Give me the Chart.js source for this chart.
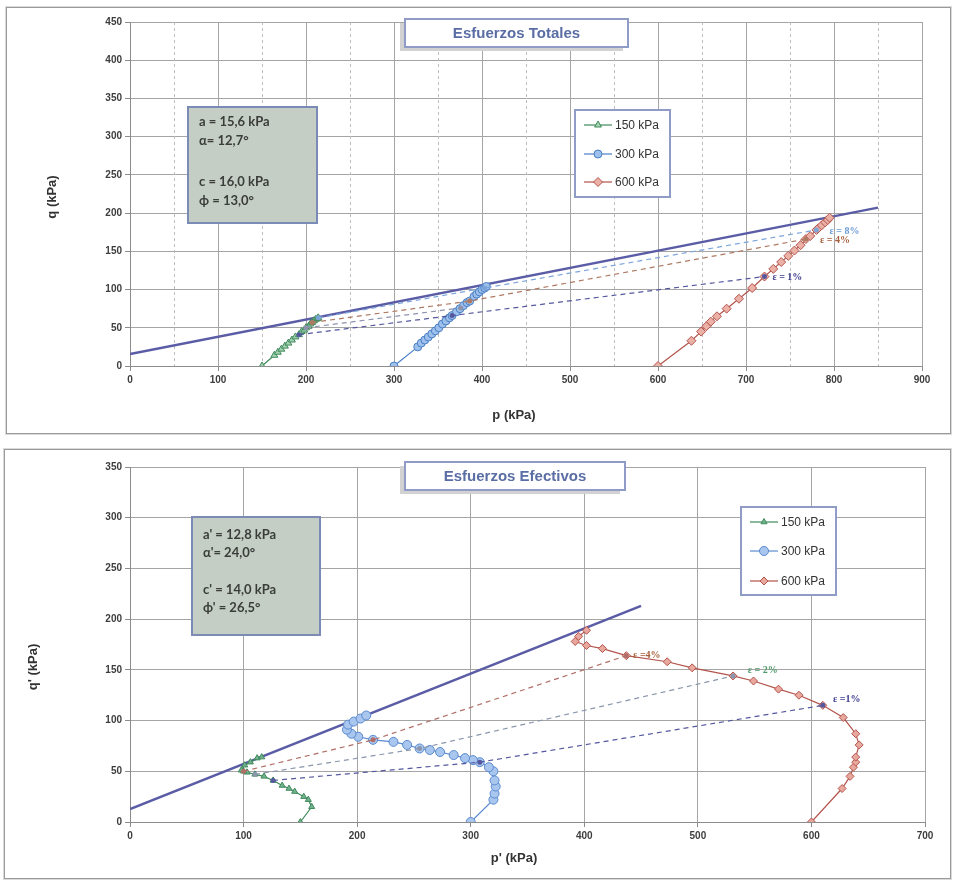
<!DOCTYPE html>
<html lang="es">
<head>
<meta charset="utf-8">
<title>Trayectorias de esfuerzos</title>
<script src="https://cdn.jsdelivr.net/npm/chart.js@4.4.1/dist/chart.umd.min.js"></script>
<style>
  html, body { margin: 0; padding: 0; background: #fff; }
  #hoja { position: relative; width: 955px; height: 881px; overflow: hidden; }
  .marco { position: absolute; border: 1px solid #9a9a9a; box-shadow: 0 0 0 1px #dadada; }
  canvas { position: absolute; left: 0; }
</style>
</head>
<body>
<div id="hoja">
  <div class="marco" style="left:6px;top:7px;width:943px;height:425px"></div>
  <div class="marco" style="left:4px;top:449px;width:945px;height:428px"></div>
  <canvas id="totales" width="955" height="440" style="top:0"></canvas>
  <canvas id="efectivos" width="955" height="438" style="top:443px"></canvas>
</div>
<script>
// ---------- Esfuerzos totales ----------
const ticksP_tot = [0, 100, 200, 300, 400, 500, 600, 700, 800, 900];
const ticksQ_tot = [0, 50, 100, 150, 200, 250, 300, 350, 400, 450];
const menoresP_tot = [50, 150, 250, 350, 450, 550, 650, 750, 850];

const p150_tot = [150, 164, 168, 172, 176, 180, 184, 188, 192, 195, 198, 200, 203, 205, 207, 209, 211, 213, 214];
const q150_tot = [0, 14, 18, 22, 26, 30, 34, 38, 41, 45, 47, 50, 52, 55, 57, 59, 61, 62, 63];
const p300_tot = [300, 327, 331, 335, 339, 343, 347, 351, 355, 359, 363, 366, 371, 375, 379, 383, 386, 391, 394, 397, 400, 403, 405];
const q300_tot = [0, 25, 30, 34, 38, 42, 46, 50, 55, 59, 63, 66, 71, 75, 79, 83, 85, 91, 94, 97, 100, 102, 104];
const p600_tot = [600, 638, 649, 655, 660, 667, 678, 692, 707, 721, 731, 740, 748, 755, 762, 768, 773, 780, 782, 786, 790, 793, 795];
const q600_tot = [0, 33, 45, 52, 58, 65, 75, 88, 102, 117, 127, 136, 144, 151, 158, 166, 170, 178, 180, 184, 188, 191, 194];

// envolvente: a = 15,6 kPa, alfa = 12,7 grados
const aTot = 15.6, alfaTot = 12.7;
const envP_tot = [0, 850];

// puntos de igual deformacion
const d8P_tot = [214, 403, 780], d8Q_tot = [63, 102, 178];
const d4P_tot = [207, 386, 768], d4Q_tot = [57, 85, 166];
const d2P_tot = [200, 376], d2Q_tot = [50, 76];
const d1P_tot = [192, 366, 721], d1Q_tot = [41, 66, 117];

// ---------- Esfuerzos efectivos ----------
const ticksP_ef = [0, 100, 200, 300, 400, 500, 600, 700];
const ticksQ_ef = [0, 50, 100, 150, 200, 250, 300, 350];

const p150_ef = [150, 160, 157, 153, 145, 140, 134, 126, 118, 110, 103, 100, 98, 101, 106, 112, 116];
const q150_ef = [0, 15, 22, 25, 30, 33, 36, 41, 45, 47, 49, 50, 51, 56, 59, 63, 64];
const p300_ef = [300, 320, 321, 322, 321, 320, 316, 308, 302, 295, 285, 273, 264, 255, 244, 232, 214, 201, 195, 191, 192, 197, 203, 208];
const q300_ef = [0, 22, 28, 35, 41, 50, 54, 59, 61, 63, 66, 69, 71, 72.5, 76, 79, 81, 84, 87, 91, 96, 99, 102, 105];
const p600_ef = [600, 627, 634, 637, 639, 639, 642, 639, 628, 610, 589, 571, 549, 531, 495, 473, 437, 416, 402, 392, 395, 402];
const q600_ef = [0, 33, 45, 54, 59, 64, 76, 87, 103, 115, 125, 131, 139, 144, 152, 158, 164, 171, 174, 178, 183, 189];

// envolvente: a' = 12,8 kPa, alfa' = 24,0 grados
const aEf = 12.8, alfaEf = 24.0;
const envP_ef = [0, 450];

const d4P_ef = [100, 214, 437], d4Q_ef = [50, 81, 164];
const d2P_ef = [110, 255, 531], d2Q_ef = [47, 72.5, 144];
const d1P_ef = [126, 308, 610], d1Q_ef = [41, 59, 115];

// ---------- utilidades ----------
Chart.defaults.font.family = "'Liberation Sans', Arial, sans-serif";

function puntos(ps, qs) {
  return ps.map((p, i) => ({ x: p, y: qs[i] }));
}

function recta(ps, a, alfa) {
  const t = Math.tan(alfa * Math.PI / 180);
  return ps.map(p => ({ x: p, y: a + p * t }));
}

function serie(label, ps, qs, color, relleno, estilo, radio) {
  return {
    label: label, data: puntos(ps, qs), showLine: true,
    borderColor: color, backgroundColor: relleno, borderWidth: 1.2,
    pointStyle: estilo, pointRadius: radio, pointBorderWidth: 1,
    pointBackgroundColor: relleno, pointBorderColor: color,
    order: 1, enLeyenda: true
  };
}

function discontinua(ps, qs, color) {
  return {
    data: puntos(ps, qs), showLine: true, borderColor: color, backgroundColor: color,
    borderDash: [5, 4], borderWidth: 1.2, pointRadius: 2.5, pointBorderWidth: 0,
    order: 0
  };
}

function envolvente(datos) {
  return {
    data: datos, showLine: true, borderColor: '#5b5ca6', borderWidth: 2.5,
    pointRadius: 0, order: 2
  };
}

function escalas(ticksX, ticksY, altoX) {
  const comun = {
    type: 'linear',
    grid: { color: '#a5a5a5', lineWidth: 1, tickLength: 5, tickColor: '#8c8c8c' },
    border: { color: '#8c8c8c', width: 1 },
    ticks: { font: { size: 10, weight: 'bold' }, color: '#3d3d3d', padding: 3, maxRotation: 0, autoSkip: false }
  };
  return {
    x: Object.assign({}, comun, {
      min: ticksX[0], max: ticksX[ticksX.length - 1],
      afterBuildTicks: s => { s.ticks = ticksX.map(v => ({ value: v })); },
      afterFit: s => { s.height = altoX; }
    }),
    y: Object.assign({}, comun, {
      min: ticksY[0], max: ticksY[ticksY.length - 1],
      afterBuildTicks: s => { s.ticks = ticksY.map(v => ({ value: v })); },
      afterFit: s => { s.width = 130; }
    })
  };
}

// cajas de titulo, parametros, leyenda y rotulos de deformacion
const decoracion = {
  id: 'decoracion',
  beforeDatasetsDraw(chart, args, o) {
    if (!o.menores) return;
    const ctx = chart.ctx, a = chart.chartArea, x = chart.scales.x;
    ctx.save();
    ctx.strokeStyle = '#bdbdbd';
    ctx.lineWidth = 1;
    ctx.setLineDash([3, 3]);
    o.menores.forEach(v => {
      const px = Math.round(x.getPixelForValue(v)) + 0.5;
      ctx.beginPath(); ctx.moveTo(px, a.top); ctx.lineTo(px, a.bottom); ctx.stroke();
    });
    ctx.restore();
  },
  afterDatasetsDraw(chart, args, o) {
    const ctx = chart.ctx, sx = chart.scales.x, sy = chart.scales.y;
    ctx.save();

    // titulo
    const t = o.cajaTitulo;
    ctx.fillStyle = '#d2d2d2';
    ctx.fillRect(t[0] - 5, t[1] + 4, t[2], t[3]);
    ctx.fillStyle = '#fff';
    ctx.fillRect(t[0], t[1], t[2], t[3]);
    ctx.strokeStyle = '#8f9cc6';
    ctx.lineWidth = 2;
    ctx.strokeRect(t[0], t[1], t[2], t[3]);
    ctx.fillStyle = '#5a6da4';
    ctx.font = "bold 15px 'Liberation Sans', Arial, sans-serif";
    ctx.textAlign = 'center';
    ctx.textBaseline = 'middle';
    ctx.fillText(o.titulo, t[0] + t[2] / 2, t[1] + t[3] / 2 + 1);

    // parametros de resistencia
    const c = o.cajaParam;
    ctx.fillStyle = '#c4cec4';
    ctx.fillRect(c[0], c[1], c[2], c[3]);
    ctx.strokeStyle = '#7c8ab6';
    ctx.strokeRect(c[0], c[1], c[2], c[3]);
    ctx.fillStyle = '#3a3d3a';
    ctx.font = "bold 13px Lato, 'Open Sans', sans-serif";
    ctx.textAlign = 'left';
    o.parametros.forEach((txt, i) => ctx.fillText(txt, c[0] + 11, o.filasParam[i]));

    // leyenda
    const l = o.cajaLeyenda;
    ctx.fillStyle = '#fff';
    ctx.fillRect(l[0], l[1], l[2], l[3]);
    ctx.strokeStyle = '#8f9cc6';
    ctx.strokeRect(l[0], l[1], l[2], l[3]);
    ctx.font = "12px 'Liberation Sans', Arial, sans-serif";
    chart.data.datasets.filter(d => d.enLeyenda).forEach((d, i) => {
      const y = o.filasLeyenda[i];
      const x0 = l[0] + 9, x1 = x0 + 28;
      ctx.strokeStyle = d.borderColor;
      ctx.lineWidth = 1.2;
      ctx.beginPath(); ctx.moveTo(x0, y); ctx.lineTo(x1, y); ctx.stroke();
      ctx.fillStyle = d.pointBackgroundColor;
      ctx.lineWidth = 1;
      Chart.helpers.drawPoint(ctx, { pointStyle: d.pointStyle, radius: d.pointRadius, borderWidth: 1, rotation: 0 }, (x0 + x1) / 2, y);
      ctx.fillStyle = '#333';
      ctx.fillText(d.label, x1 + 3, y + 1);
    });

    // rotulos de deformacion
    ctx.font = "bold 10px 'Liberation Serif', 'DejaVu Serif', serif";
    o.rotulos.forEach(r => {
      ctx.fillStyle = r.color;
      ctx.fillText(r.texto, sx.getPixelForValue(r.p), sy.getPixelForValue(r.q));
    });

    // titulos de ejes
    ctx.fillStyle = '#333';
    ctx.font = "bold 13px 'Liberation Sans', Arial, sans-serif";
    ctx.textAlign = 'center';
    ctx.fillText(o.ejeX[0], o.ejeX[1], o.ejeX[2]);
    ctx.translate(o.ejeY[1], o.ejeY[2]);
    ctx.rotate(-Math.PI / 2);
    ctx.fillText(o.ejeY[0], 0, 0);
    ctx.restore();
  }
};

function opciones(ticksX, ticksY, altoX, derecha, arriba, deco) {
  return {
    responsive: false,
    animation: false,
    layout: { padding: { top: arriba, right: derecha, left: 0, bottom: 0 } },
    scales: escalas(ticksX, ticksY, altoX),
    plugins: { legend: { display: false }, tooltip: { enabled: false }, decoracion: deco }
  };
}

new Chart(document.getElementById('totales'), {
  type: 'scatter',
  plugins: [decoracion],
  data: {
    datasets: [
      serie('150 kPa', p150_tot, q150_tot, '#3f8a5c', '#a3d2b0', 'triangle', 4),
      serie('300 kPa', p300_tot, q300_tot, '#4a7fc4', '#9dc0ec', 'circle', 4),
      serie('600 kPa', p600_tot, q600_tot, '#b3544c', '#ebb1a7', 'rectRot', 4.5),
      envolvente(recta(envP_tot, aTot, alfaTot)),
      discontinua(d8P_tot, d8Q_tot, '#7ba5d9'),
      discontinua(d4P_tot, d4Q_tot, '#b07a62'),
      discontinua(d2P_tot, d2Q_tot, '#8e93ad'),
      discontinua(d1P_tot, d1Q_tot, '#55589e')
    ]
  },
  options: opciones(ticksP_tot, ticksQ_tot, 74, 33, 22, {
    menores: menoresP_tot,
    titulo: 'Esfuerzos Totales',
    cajaTitulo: [405, 19, 223, 28],
    parametros: ['a = 15,6 kPa', 'α= 12,7°', 'c = 16,0 kPa', 'ϕ = 13,0°'],
    cajaParam: [188, 107, 129, 116],
    filasParam: [122, 141, 182, 201],
    cajaLeyenda: [575, 110, 95, 87],
    filasLeyenda: [125, 154, 182],
    rotulos: [
      { texto: 'ε = 8%', p: 795, q: 176, color: '#6b9bd6' },
      { texto: 'ε = 4%', p: 784, q: 164, color: '#a8603c' },
      { texto: 'ε = 1%', p: 730, q: 116, color: '#3a3a8c' }
    ],
    ejeX: ['p (kPa)', 514, 415],
    ejeY: ['q (kPa)', 52, 197]
  })
});

new Chart(document.getElementById('efectivos'), {
  type: 'scatter',
  plugins: [decoracion],
  data: {
    datasets: [
      serie('150 kPa', p150_ef, q150_ef, '#3f8a5c', '#72b28d', 'triangle', 3.5),
      serie('300 kPa', p300_ef, q300_ef, '#5a8ad0', '#a9c7ee', 'circle', 4.5),
      serie('600 kPa', p600_ef, q600_ef, '#b3544c', '#e9a89d', 'rectRot', 4),
      envolvente(recta(envP_ef, aEf, alfaEf)),
      discontinua(d4P_ef, d4Q_ef, '#b06e66'),
      discontinua(d2P_ef, d2Q_ef, '#8a96ab'),
      discontinua(d1P_ef, d1Q_ef, '#55589e')
    ]
  },
  options: opciones(ticksP_ef, ticksQ_ef, 59, 30, 24, {
    titulo: 'Esfuerzos Efectivos',
    cajaTitulo: [405, 19, 220, 28],
    parametros: ["a' = 12,8 kPa", "α'= 24,0°", "c' = 14,0 kPa", "ϕ' = 26,5°"],
    cajaParam: [192, 74, 128, 118],
    filasParam: [92, 110, 147, 165],
    cajaLeyenda: [741, 64, 95, 88],
    filasLeyenda: [79, 108, 138],
    rotulos: [
      { texto: 'ε =4%', p: 443, q: 164, color: '#a8603c' },
      { texto: 'ε = 2%', p: 544, q: 149, color: '#4f9a6a' },
      { texto: 'ε =1%', p: 619, q: 121, color: '#3a3a8c' }
    ],
    ejeX: ["p' (kPa)", 514, 415],
    ejeY: ["q' (kPa)", 33, 224]
  })
});
</script>
</body>
</html>
